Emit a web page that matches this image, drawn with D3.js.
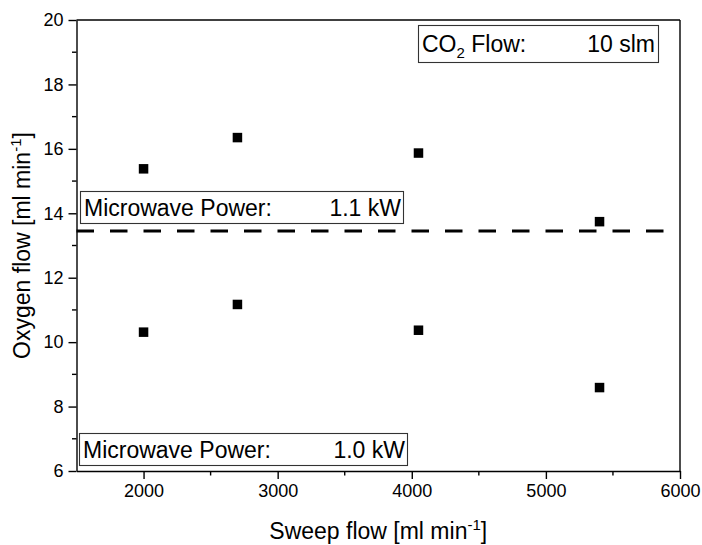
<!DOCTYPE html>
<html>
<head>
<meta charset="utf-8">
<script src="https://cdn.jsdelivr.net/npm/d3@7"></script>
<style>
  html, body { margin: 0; padding: 0; background: #fff; }
  svg { display: block; font-family: "Liberation Sans", Arial, sans-serif; }
</style>
</head>
<body>
<svg id="chart" width="702" height="545"></svg>
<script>
// Sweep flow settings [ml/min]
const sweepFlow = [2000, 2700, 4050, 5400];
// Oxygen flow at 1.1 kW microwave power [ml/min]
const oxygen11kW = [15.38, 16.35, 15.87, 13.74];
// Oxygen flow at 1.0 kW microwave power [ml/min]
const oxygen10kW = [10.31, 11.17, 10.37, 8.59];
// Dividing reference line between the two power levels
const refLineY = [13.45];
const refLineX = [1500, 5890];

const xTicks = [2000, 3000, 4000, 5000, 6000];
const xMinor = [2500, 3500, 4500, 5500];
const yTicks = [6, 8, 10, 12, 14, 16, 18, 20];
const yMinor = [7, 9, 11, 13, 15, 17, 19];

const margin = { left: 76.5, top: 20, right: 702 - 680, bottom: 545 - 471 };
const W = 702, H = 545;
const svg = d3.select("#chart");

const x = d3.scaleLinear().domain([1500, 6000]).range([margin.left, W - margin.right]);
const y = d3.scaleLinear().domain([6, 20]).range([H - margin.bottom, margin.top]);

const ink = "#000";

// frame (top and right edges)
svg.append("line").attr("x1", x(1500)).attr("x2", x(6000)).attr("y1", y(20)).attr("y2", y(20))
  .attr("stroke", ink).attr("stroke-width", 1.4);
svg.append("line").attr("x1", x(6000)).attr("x2", x(6000)).attr("y1", y(20)).attr("y2", y(6))
  .attr("stroke", ink).attr("stroke-width", 1.4);

// bottom axis
const gx = svg.append("g").attr("transform", `translate(0,${y(6)})`)
  .call(d3.axisBottom(x).tickValues(xTicks).tickSize(8).tickPadding(5).tickSizeOuter(0).tickFormat(d3.format("d")));
gx.selectAll(".tick text").attr("font-size", 18).attr("fill", ink).attr("font-family", "Liberation Sans, Arial, sans-serif");
gx.selectAll(".tick line").attr("stroke-width", 1.4);
gx.select(".domain").attr("stroke-width", 1.4);
gx.selectAll(".minor").data(xMinor).enter().append("line")
  .attr("x1", d => x(d)).attr("x2", d => x(d)).attr("y1", 0).attr("y2", 4.5)
  .attr("stroke", ink).attr("stroke-width", 1.4);

// left axis
const gy = svg.append("g").attr("transform", `translate(${x(1500)},0)`)
  .call(d3.axisLeft(y).tickValues(yTicks).tickSize(8).tickPadding(5).tickSizeOuter(0));
gy.selectAll(".tick text").attr("font-size", 18).attr("fill", ink).attr("font-family", "Liberation Sans, Arial, sans-serif");
gy.selectAll(".tick line").attr("stroke-width", 1.4);
gy.select(".domain").attr("stroke-width", 1.4);
gy.selectAll(".minor").data(yMinor).enter().append("line")
  .attr("y1", d => y(d)).attr("y2", d => y(d)).attr("x1", 0).attr("x2", -4.5)
  .attr("stroke", ink).attr("stroke-width", 1.4);

// axis titles
const xt = svg.append("text").attr("x", (x(1500) + x(6000)) / 2).attr("y", 539)
  .attr("text-anchor", "middle").attr("font-size", 23).attr("fill", ink);
xt.append("tspan").text("Sweep flow [ml min");
xt.append("tspan").attr("font-size", 15).attr("dy", -9).text("-1");
xt.append("tspan").attr("dy", 9).text("]");

const yt = svg.append("text").attr("transform", `translate(30,${(y(6) + y(20)) / 2}) rotate(-90)`)
  .attr("text-anchor", "middle").attr("font-size", 23).attr("fill", ink);
yt.append("tspan").text("Oxygen flow [ml min");
yt.append("tspan").attr("font-size", 15).attr("dy", -9).text("-1");
yt.append("tspan").attr("dy", 9).text("]");

// dashed reference line
svg.append("line")
  .attr("x1", x(refLineX[0])).attr("x2", x(refLineX[1]))
  .attr("y1", y(refLineY[0])).attr("y2", y(refLineY[0]))
  .attr("stroke", ink).attr("stroke-width", 3.2).attr("stroke-dasharray", "17.5,16");

// data points
const sq = 9.5;
const pts = sweepFlow.map((s, i) => ({ s, v: oxygen11kW[i] }))
  .concat(sweepFlow.map((s, i) => ({ s, v: oxygen10kW[i] })));
svg.selectAll("rect.pt").data(pts).enter().append("rect").attr("class", "pt")
  .attr("x", d => x(d.s) - sq / 2).attr("y", d => y(d.v) - sq / 2)
  .attr("width", sq).attr("height", sq).attr("fill", ink);

// annotation boxes
function labelBox(x0, y0, x1, y1, build) {
  svg.append("rect").attr("x", x0).attr("y", y0).attr("width", x1 - x0).attr("height", y1 - y0)
    .attr("fill", "#fff").attr("stroke", "#333").attr("stroke-width", 1.1);
  build();
}

labelBox(418.5, 25.5, 658.5, 62.5, () => {
  const t = svg.append("text").attr("x", 422).attr("y", 52).attr("font-size", 23).attr("fill", ink);
  t.append("tspan").text("CO");
  t.append("tspan").attr("font-size", 15).attr("dy", 6).text("2");
  t.append("tspan").attr("dy", -6).text(" Flow:");
  svg.append("text").attr("x", 655).attr("y", 52).attr("text-anchor", "end")
    .attr("font-size", 23).attr("fill", ink).text("10 slm");
});

labelBox(80.5, 191.5, 403.5, 223.5, () => {
  svg.append("text").attr("x", 84).attr("y", 216).attr("font-size", 23).attr("fill", ink).text("Microwave Power:");
  svg.append("text").attr("x", 401).attr("y", 216).attr("text-anchor", "end")
    .attr("font-size", 23).attr("fill", ink).text("1.1 kW");
});

labelBox(79.5, 433.5, 407.5, 465.5, () => {
  svg.append("text").attr("x", 83).attr("y", 458).attr("font-size", 23).attr("fill", ink).text("Microwave Power:");
  svg.append("text").attr("x", 405).attr("y", 458).attr("text-anchor", "end")
    .attr("font-size", 23).attr("fill", ink).text("1.0 kW");
});
</script>
</body>
</html>
